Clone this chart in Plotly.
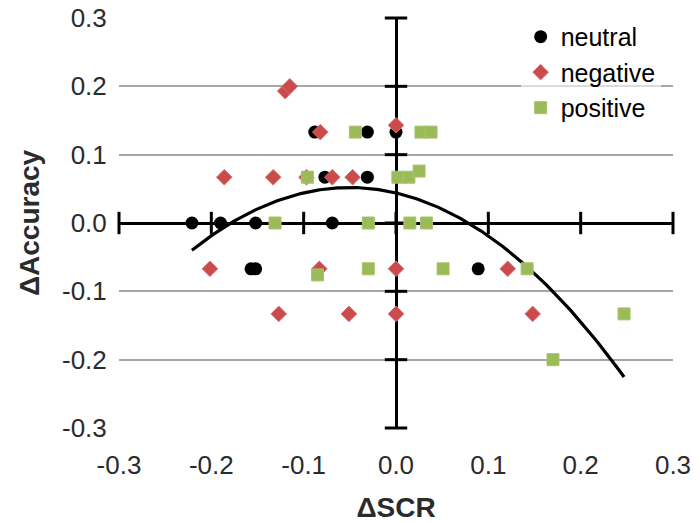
import numpy as np
import plotly.graph_objects as go

# ---- data ----
neutral_x = [-0.221, -0.190, -0.152, -0.069, -0.157, -0.152, 0.089, -0.077, -0.031, -0.088, -0.031, 0.0]
neutral_y = [0.0, 0.0, 0.0, 0.0, -0.067, -0.067, -0.067, 0.067, 0.067, 0.133, 0.133, 0.133]

negative_x = [-0.120, -0.115, 0.0, -0.082, -0.186, -0.133, -0.097, -0.069, -0.047,
              -0.2015, -0.083, 0.0, 0.121, -0.127, -0.051, 0.0, 0.148]
negative_y = [0.193, 0.200, 0.143, 0.133, 0.067, 0.067, 0.067, 0.067, 0.067,
              -0.067, -0.067, -0.067, -0.067, -0.133, -0.133, -0.133, -0.133]

positive_x = [-0.044, 0.027, 0.038, -0.096, 0.002, 0.014, 0.025, -0.131, -0.030, 0.015, 0.033,
              -0.030, 0.051, 0.142, -0.085, 0.247, 0.170]
positive_y = [0.133, 0.133, 0.133, 0.067, 0.067, 0.067, 0.076, 0.0, 0.0, 0.0, 0.0,
              -0.067, -0.067, -0.067, -0.076, -0.133, -0.200]

trend_coeffs = [-3.14, -0.315, 0.044]
trend_range = [-0.221, 0.247]

tick_vals = [-0.3, -0.2, -0.1, 0.0, 0.1, 0.2, 0.3]
tick_text = ["-0.3", "-0.2", "-0.1", "0.0", "0.1", "0.2", "0.3"]

FONT = "Arial, 'Liberation Sans', sans-serif"
TXT = "#2b2b2b"

fig = go.Figure()

# trendline
tx = np.linspace(trend_range[0], trend_range[1], 200)
ty = np.polyval(trend_coeffs, tx)
fig.add_trace(go.Scatter(x=tx, y=ty, mode="lines", line=dict(color="black", width=3.2),
                         showlegend=False, hoverinfo="skip"))

# cross tick marks on the axes through zero
fig.add_trace(go.Scatter(x=tick_vals, y=[0] * len(tick_vals), mode="markers",
                         marker=dict(symbol="line-ns", size=16, line=dict(color="black", width=3)),
                         showlegend=False, hoverinfo="skip", cliponaxis=False))
fig.add_trace(go.Scatter(x=[0] * len(tick_vals), y=tick_vals, mode="markers",
                         marker=dict(symbol="line-ew", size=16, line=dict(color="black", width=3)),
                         showlegend=False, hoverinfo="skip", cliponaxis=False))

fig.add_trace(go.Scatter(x=neutral_x, y=neutral_y, mode="markers", name="neutral",
                         marker=dict(symbol="circle", size=13, color="black")))
fig.add_trace(go.Scatter(x=negative_x, y=negative_y, mode="markers", name="negative",
                         marker=dict(symbol="diamond", size=12, color="#CB4A4B",
                                     line=dict(color="#D87070", width=1))))
fig.add_trace(go.Scatter(x=positive_x, y=positive_y, mode="markers", name="positive",
                         marker=dict(symbol="square", size=12, color="#9BBB59",
                                     line=dict(color="#A8C46C", width=1))))

fig.update_layout(
    width=700, height=523,
    margin=dict(l=119, r=27, t=18, b=95),
    paper_bgcolor="white", plot_bgcolor="white",
    font=dict(family=FONT, color=TXT, size=26),
    legend=dict(x=0.725, xanchor="left", y=1.01, yanchor="top",
                bgcolor="rgba(255,255,255,0.6)", borderwidth=0,
                font=dict(size=25, color="black"), itemsizing="trace",
                tracegroupgap=0),
    showlegend=True,
)
fig.update_xaxes(range=[-0.3, 0.3], tickvals=tick_vals, ticktext=tick_text, automargin=False,
                 showgrid=False, zeroline=True, zerolinecolor="black", zerolinewidth=3,
                 showline=False, ticks="outside", ticklen=14, tickcolor="rgba(0,0,0,0)",
                 tickfont=dict(size=26, color=TXT),
                 title=dict(text="<b>ΔSCR</b>", font=dict(size=28, color=TXT), standoff=20))
fig.update_yaxes(range=[-0.3, 0.3], tickvals=tick_vals, ticktext=tick_text, automargin=False,
                 showgrid=True, gridcolor="#A6A6A6", gridwidth=2,
                 zeroline=True, zerolinecolor="black", zerolinewidth=3,
                 showline=False, ticks="outside", ticklen=6, tickcolor="rgba(0,0,0,0)",
                 tickfont=dict(size=26, color=TXT),
                 title=dict(text="<b>ΔAccuracy</b>", font=dict(size=28, color=TXT), standoff=14))

fig.write_html("out.html", config={"displayModeBar": False},
               post_script="document.body.style.margin='0';document.body.style.padding='0';")
